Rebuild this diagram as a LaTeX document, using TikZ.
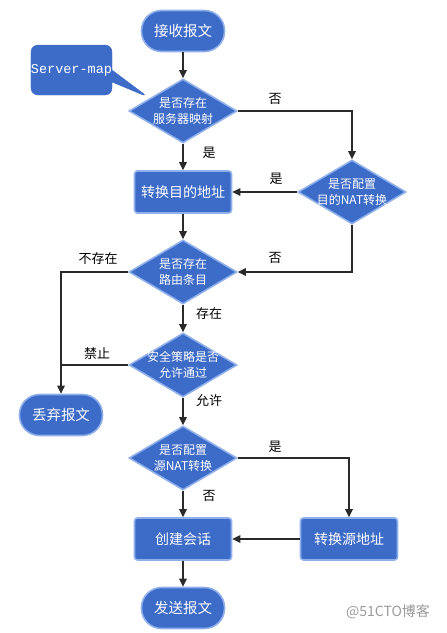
\documentclass[tikz,border=0pt]{standalone}
\usepackage{fontspec}
\setmainfont{Noto Sans CJK SC}
\newfontfamily\monof{Liberation Mono}
\usetikzlibrary{shapes.geometric,shapes.callouts,arrows.meta}
\definecolor{nodeblue}{HTML}{3D6BC8}
\definecolor{rimblue}{HTML}{8FB0EA}
\definecolor{linegray}{HTML}{2A2A2A}
\tikzset{
  base/.style={fill=nodeblue, draw=rimblue, line width=1.6pt, text=white, inner sep=0pt},
  term/.style={base, rectangle, rounded corners=20pt, minimum width=83pt, minimum height=41pt, font=\fontsize{14.5}{16}\selectfont},
  procbox/.style={base, rectangle, rounded corners=3pt, minimum width=97pt, minimum height=42pt, font=\fontsize{14}{16}\selectfont},
  decide/.style={base, diamond, minimum width=108pt, minimum height=64pt},
  dtext/.style={text=white, align=center, font=\fontsize{12}{16.5}\selectfont, inner sep=0pt},
  conn/.style={draw=linegray, line width=1.1pt, -{Triangle[length=8pt,width=7.5pt]}},
  plain/.style={draw=linegray, line width=1.1pt},
  lbl/.style={font=\fontsize{13}{15}\selectfont, text=black, inner sep=0pt}
}
\begin{document}
\begin{tikzpicture}[x=1pt,y=-1pt]
\useasboundingbox (0,0) rectangle (447,633);
% nodes
\node[term] (recv) at (183,31) {接收报文};
\node[decide, label={[dtext]center:{是否存在\\服务器映射}}] (d1) at (183,111) {};
\node[procbox] (b1) at (183,192) {转换目的地址};
\node[decide, label={[dtext]center:{是否配置\\目的NAT转换}}] (d2) at (352,192) {};
\node[decide, label={[dtext]center:{是否存在\\路由条目}}] (d3) at (183,272) {};
\node[decide, label={[dtext]center:{安全策略是否\\允许通过}}] (d4) at (183,365) {};
\node[term] (drop) at (61,415) {丢弃报文};
\node[decide, label={[dtext]center:{是否配置\\源NAT转换}}] (d5) at (183,458) {};
\node[procbox] (b2) at (183,539) {创建会话};
\node[procbox] (b3) at (349,539) {转换源地址};
\node[term] (send) at (183,608) {发送报文};
% callout
\coordinate (tip) at (148,97);
\node[rectangle callout, fill=nodeblue, draw=nodeblue, rounded corners=7pt, text=white,
      minimum width=79pt, minimum height=50pt, inner sep=0pt,
      callout absolute pointer={(tip)}, callout pointer width=12pt,
      font=\monof\fontsize{13.5}{15}\selectfont] (sm) at (71.5,70) {Server-map};
% connectors
\draw[conn] (recv.south) -- (d1.north);
\draw[conn] (d1.east) -| (d2.north);
\draw[conn] (d1.south) -- (b1.north);
\draw[conn] (d2.west) -- (b1.east);
\draw[conn] (b1.south) -- (d3.north);
\draw[conn] (d2.south) |- (d3.east);
\draw[conn] (d3.west) -| (drop.north);
\coordinate (j1) at (drop.north |- d4.west);
\draw[plain] (d4.west) -- (j1);
\draw[conn] (d3.south) -- (d4.north);
\draw[conn] (d4.south) -- (d5.north);
\draw[conn] (d5.east) -| (b3.north);
\draw[conn] (d5.south) -- (b2.north);
\draw[conn] (b3.west) -- (b2.east);
\draw[conn] (b2.south) -- (send.north);
% labels
\node[lbl] (l1) at (275,99) {否};
\node[lbl] (l2) at (209,153) {是};
\node[lbl] (l3) at (276,179) {是};
\node[lbl] (l4) at (275,258) {否};
\node[lbl] (l5) at (98,259) {不存在};
\node[lbl] (l6) at (209,314) {存在};
\node[lbl] (l7) at (97,354) {禁止};
\node[lbl] (l8) at (209,401) {允许};
\node[lbl] (l9) at (275,447) {是};
\node[lbl] (l10) at (209,496) {否};
\node[text=gray!80, font=\fontsize{14}{16}\selectfont, inner sep=0pt] (wm) at (388,612) {@51CTO博客};
\end{tikzpicture}
\end{document}
